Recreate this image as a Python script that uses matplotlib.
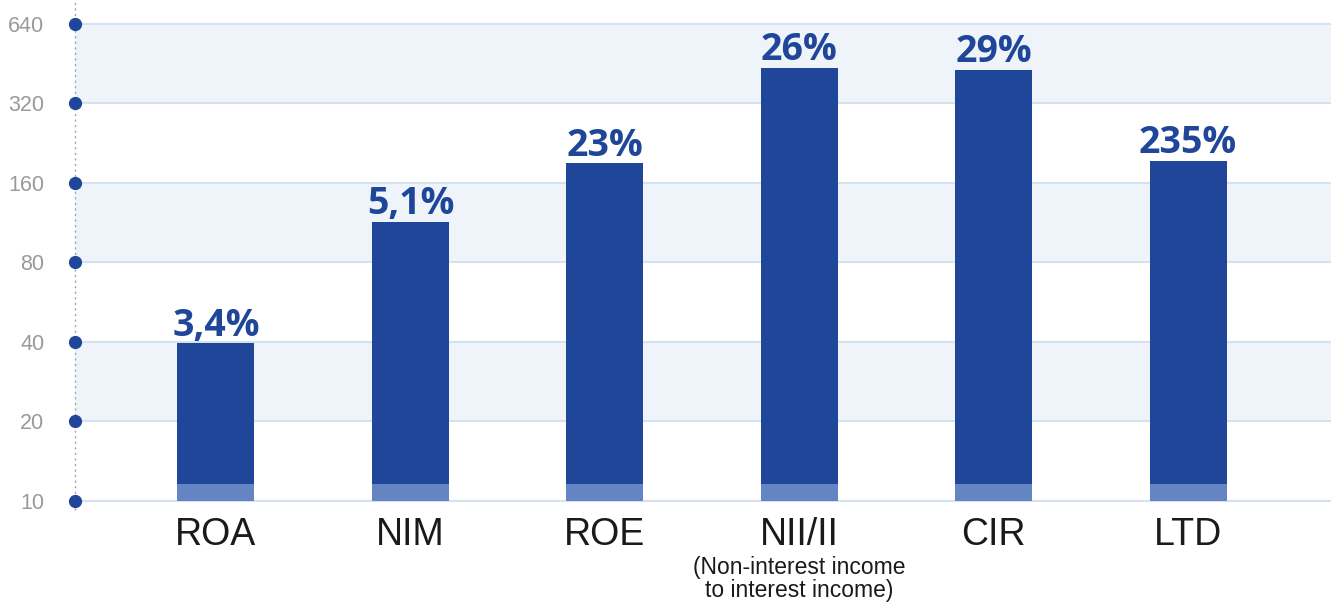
import numpy as np
import matplotlib.pyplot as plt
from matplotlib.ticker import FixedLocator, NullLocator

categories = ['ROA', 'NIM', 'ROE', 'NII/II', 'CIR', 'LTD']
subtitles = ['', '', '', '(Non-interest income\nto interest income)', '', '']
bar_values = [39.5, 114, 190, 436, 428, 194]
bar_labels = ['3,4%', '5,1%', '23%', '26%', '29%', '235%']
base_value = 11.6
yticks = [10, 20, 40, 80, 160, 320, 640]

dark = '#1f4699'
light = '#6484c4'
band = '#eef4fa'
grid = '#d3e1f1'

fig = plt.figure(figsize=(13.31, 6.04), dpi=100)
ax = fig.add_axes([75 / 1331, (604 - 510) / 604, 1 - 75 / 1331, 510 / 604])
ax.set_yscale('log', base=2)
ax.set_ylim(9.24, 788)
ax.set_xlim(-0.725, 5.735)

# alternating bands
for i in range(len(yticks) - 1):
    if i % 2 == 0:
        continue
    ax.axhspan(yticks[i], yticks[i + 1], color=band, zorder=0, lw=0)
for t in yticks:
    ax.axhline(t, color=grid, lw=1.5, zorder=1)

x = np.arange(len(categories))
w = 0.396
ax.bar(x, np.array(bar_values) - 10, bottom=10, width=w, color=dark, zorder=3)
ax.bar(x, [base_value - 10] * len(x), bottom=10, width=w, color=light, zorder=4)

for xi, v, lab in zip(x, bar_values, bar_labels):
    ax.annotate(lab, (xi, v), xytext=(0, -1), textcoords='offset points',
                ha='center', va='bottom', fontsize=27, fontweight='bold',
                color=dark, family='Open Sans', zorder=5)

# y axis: dotted line with dots
ax.axvline(-0.725, color='#9aa3b5', lw=1, ls=(0, (1.5, 2.5)), zorder=2, clip_on=False)
ax.plot([-0.725] * len(yticks), yticks, 'o', color=dark, ms=8.5, zorder=6, clip_on=False)

for s in ax.spines.values():
    s.set_visible(False)
ax.yaxis.set_major_locator(FixedLocator(yticks))
ax.yaxis.set_minor_locator(NullLocator())
ax.set_yticklabels([str(t) for t in yticks], fontsize=15.5, color='#9a9a9a', family='Liberation Sans')
ax.tick_params(axis='y', length=0, pad=22)

ax.set_xticks([])
for xi, cat, sub in zip(x, categories, subtitles):
    ax.text(xi, -0.013, cat, transform=ax.get_xaxis_transform(), ha='center', va='top',
            fontsize=27, color='#1a1a1a', family='Liberation Sans')
    if sub:
        ax.text(xi, -0.091, sub, transform=ax.get_xaxis_transform(), ha='center', va='top',
                fontsize=16.5, color='#1a1a1a', family='Liberation Sans', linespacing=1.0)

fig.savefig('out.png', dpi=100)
